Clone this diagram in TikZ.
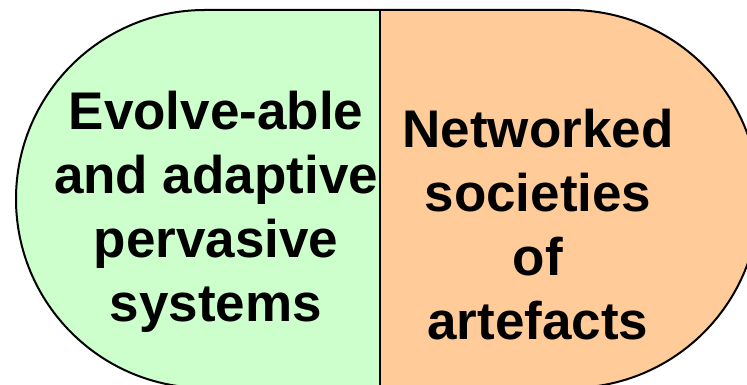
\documentclass[tikz,border=0pt]{standalone}
\usepackage{fontspec}
\setmainfont{Liberation Sans}
\definecolor{paleGreen}{HTML}{CCFFCC}
\definecolor{paleOrange}{HTML}{FFCC99}
\tikzset{
  outline/.style={draw=black, line width=2pt},
  label/.style={align=center, inner sep=0pt, anchor=base,
    font=\fontsize{53}{64}\selectfont\bfseries}
}
\begin{document}
\begin{tikzpicture}[x=1pt, y=1pt]
  \useasboundingbox (0,0) rectangle (747,385);
  \clip (0,0) rectangle (747,385);
  % key corners of the capsule (end radius 189)
  \coordinate (topMid) at (380,375);
  \coordinate (botMid) at (380,-3);
  % left half
  \fill[paleGreen] (topMid) -- (205,375) arc (90:270:189) -- (botMid) -- cycle;
  % right half
  \fill[paleOrange] (topMid) -- (570,375) arc (90:-90:189) -- (botMid) -- cycle;
  % capsule outline and divider
  \draw[outline] (205,375) -- (570,375) arc (90:-90:189) -- (205,-3) arc (270:90:189) -- cycle;
  \draw[outline] (topMid) -- (botMid);
  % captions (base anchor sits on the last line)
  \node[label] (left) at (216,63) {Evolve-able\\and adaptive\\pervasive\\systems};
  \node[label] (right) at (538,45) {Networked\\societies\\of\\artefacts};
\end{tikzpicture}
\end{document}
